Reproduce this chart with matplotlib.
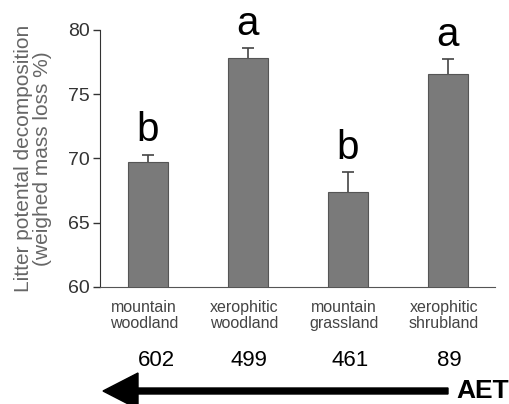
import numpy as np
import matplotlib
matplotlib.use("Agg")
import matplotlib.pyplot as plt
from matplotlib.patches import FancyArrow
from matplotlib.transforms import blended_transform_factory

plt.rcParams['font.family'] = ['Liberation Sans', 'DejaVu Sans']

# data
habitats = ["mountain\nwoodland", "xerophitic\nwoodland", "mountain\ngrassland", "xerophitic\nshrubland"]
decomp = [69.7, 77.8, 67.4, 76.6]
se = [0.6, 0.8, 1.5, 1.1]
letters = ["b", "a", "b", "a"]
aet = ["602", "499", "461", "89"]

fig = plt.figure(figsize=(5.09, 4.04), dpi=100)
ax = fig.add_axes([0.196, 0.29, 0.776, 0.636])

x = np.arange(len(habitats))
ax.bar(x, decomp, width=0.4, color="#7a7a7a", edgecolor="#555555", linewidth=0.8, zorder=3)
# only the upper half of the error bar shows, the bar hides the rest
ax.errorbar(x, decomp, yerr=se, fmt="none", ecolor="#444444",
            elinewidth=1.2, capsize=4, capthick=1.2, zorder=2)
for xi, v, s, l in zip(x, decomp, se, letters):
    ax.text(xi, v + s + 0.4, l, ha="center", va="bottom", fontsize=29, color="black")

ax.set_ylim(60, 80)
ax.set_xlim(-0.48, 3.47)
ax.set_yticks([60, 65, 70, 75, 80])
ax.tick_params(axis="y", direction="out", length=5, width=1, labelsize=14, colors="#333333", pad=2)
ax.set_xticks([])
for side in ["top", "right"]:
    ax.spines[side].set_visible(False)
ax.spines["left"].set_color("#333333")
ax.spines["bottom"].set_color("#555555")

ax.set_ylabel("Litter potental decomposition\n(weighed mass loss %)", fontsize=15,
              color="#666666", labelpad=12, linespacing=1.0)

tr = blended_transform_factory(ax.transData, ax.transAxes)
num_dx = [0.09, 0.01, 0.02, 0.02]
for xi, h, a, dx in zip(x, habitats, aet, num_dx):
    ax.text(xi - 0.04, -0.05, h, transform=tr, ha="center", va="top", fontsize=11.5,
            color="#444444", linespacing=1.15)
    ax.text(xi + dx, -0.245, a, transform=tr, ha="center", va="top", fontsize=16, color="black")

# AET arrow (inches from the lower-left corner)
arrow = FancyArrow(4.48, 0.13, -3.45, 0, width=0.06, head_width=0.36, head_length=0.35,
                   length_includes_head=True, color="black", transform=fig.dpi_scale_trans)
fig.add_artist(arrow)
fig.text(0.897, 0.032, "AET", ha="left", va="center", fontsize=19, fontweight="bold")

fig.savefig("out.png", dpi=100)
